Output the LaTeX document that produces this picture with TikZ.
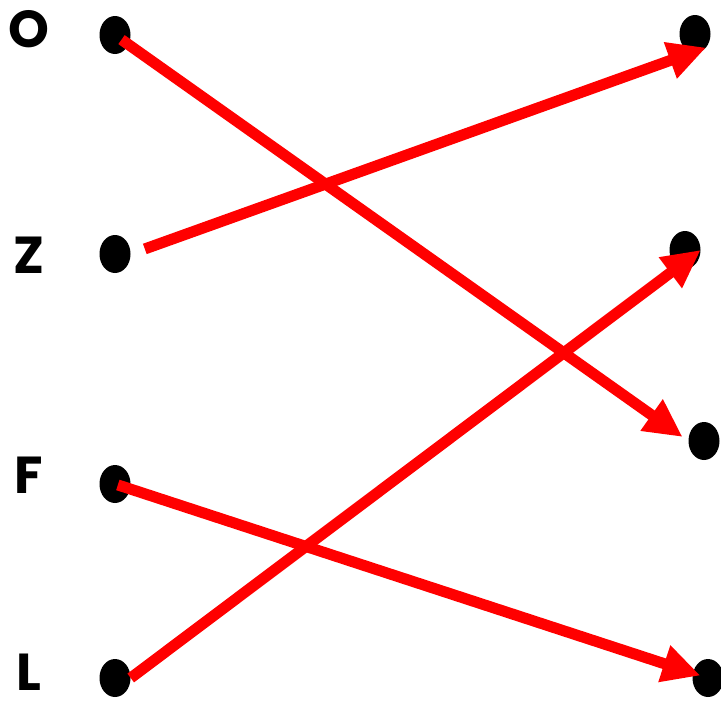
\documentclass[tikz,border=0pt]{standalone}
\usepackage{fontspec}
\setmainfont{Poppins}
\usepackage{xcolor}
\usetikzlibrary{arrows.meta, shapes.geometric}
\definecolor{ink}{HTML}{000000}
\definecolor{wire}{HTML}{FF0000}

\begin{document}
\begin{tikzpicture}[
  x=1pt, y=-1pt,
  dot/.style={ellipse, fill=ink, inner sep=0pt, minimum width=31pt, minimum height=38pt},
  tag/.style={text=ink, font=\fontsize{52}{56}\selectfont\bfseries, inner sep=0pt},
  arr/.style={-{Triangle[length=38pt, width=36pt]}, draw=wire, line width=11pt}
]
\useasboundingbox (0,0) rectangle (721,704);

% left column
\node[tag] (lo) at (29,29) {O};
\node[tag] (lz) at (29,255) {Z};
\node[tag] (lf) at (29,475) {F};
\node[tag] (ll) at (29,672) {L};
\node[dot] (o1) at (115,35) {};
\node[dot] (z1) at (115,254) {};
\node[dot] (f1) at (115,484) {};
\node[dot] (l1) at (115,678) {};

% right column
\node[dot] (r1) at (695,34) {};
\node[dot] (r2) at (685,250) {};
\node[dot] (r3) at (704,441) {};
\node[dot] (r4) at (708,678) {};

\draw[arr, shorten <=8pt, shorten >=7pt] (o1.center) -- (r3.west);
\draw[arr, shorten <=15pt] (z1.east) -- (r1.south east);
\draw[arr, shorten <=3pt, shorten >=8pt] (f1.center) -- (r4.center);
\draw[arr] (l1.east) -- (r2.east);
\end{tikzpicture}
\end{document}
